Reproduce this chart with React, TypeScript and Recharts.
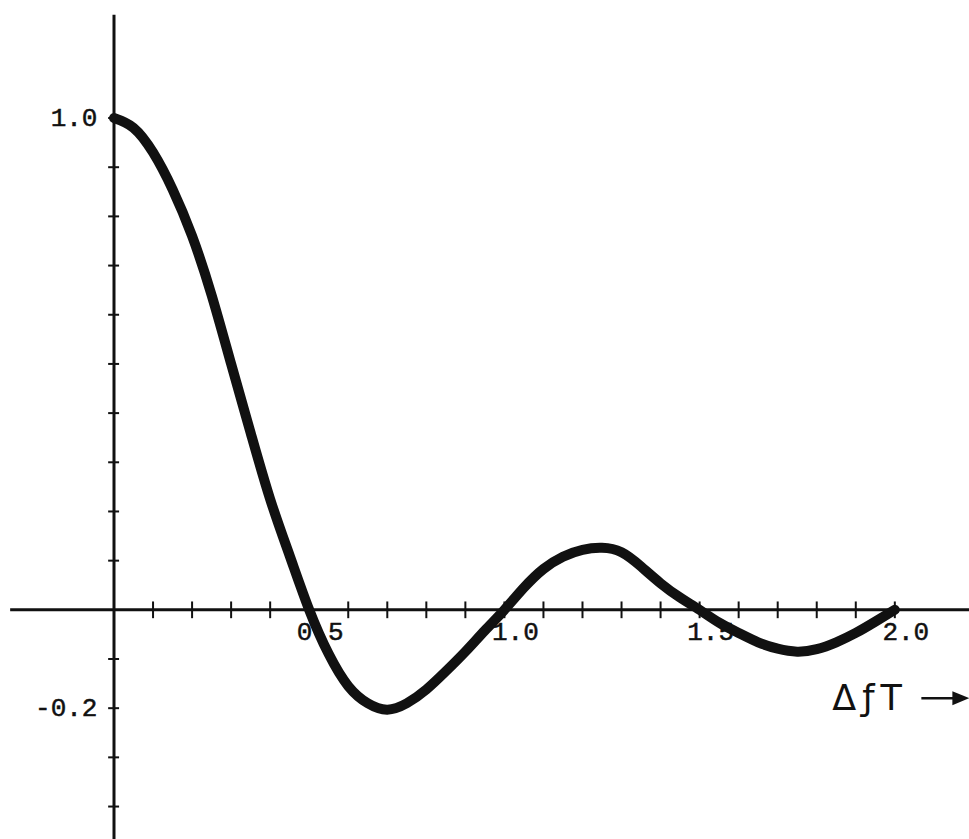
import { LineChart, Line, XAxis, YAxis, ReferenceLine, ReferenceDot } from "recharts";

// frequency offset times symbol period, every 0.05
const dfT = [
  0, 0.05, 0.1, 0.15, 0.2, 0.25, 0.3, 0.35, 0.4, 0.45,
  0.5, 0.55, 0.6, 0.65, 0.7, 0.75, 0.8, 0.85, 0.9, 0.95,
  1.0, 1.05, 1.1, 1.15, 1.2, 1.25, 1.3, 1.35, 1.4, 1.45,
  1.5, 1.55, 1.6, 1.65, 1.7, 1.75, 1.8, 1.85, 1.9, 1.95, 2.0,
];
const response = [
  1.0, 0.98, 0.93, 0.855, 0.76, 0.64, 0.5, 0.36, 0.225, 0.11,
  0.0, -0.09, -0.155, -0.19, -0.203, -0.19, -0.162, -0.125, -0.085, -0.042,
  0.0, 0.045, 0.083, 0.108, 0.122, 0.126, 0.117, 0.088, 0.054, 0.025,
  0.0, -0.026, -0.047, -0.066, -0.079, -0.085, -0.08, -0.066, -0.047, -0.024, 0.0,
];

const xTicks = [0.1, 0.2, 0.3, 0.4, 0.5, 0.6, 0.7, 0.8, 0.9, 1.0, 1.1, 1.2, 1.3, 1.4, 1.5, 1.6, 1.7, 1.8, 1.9, 2.0];
const yTicks = [1.0, 0.9, 0.8, 0.7, 0.6, 0.5, 0.4, 0.3, 0.2, 0.1, -0.1, -0.2, -0.3, -0.4];
const xLabels = [
  { v: 0.5, text: "0.5" },
  { v: 1.0, text: "1.0" },
  { v: 1.5, text: "1.5" },
  { v: 2.0, text: "2.0" },
];
const yLabels = [
  { v: 1.0, text: "1.0" },
  { v: -0.2, text: "-0.2" },
];

const data = dfT.map((x, i) => ({ x, y: response[i] }));

const W = 969;
const H = 839;
const X_MIN = -0.292;
const X_MAX = 2.19;
const Y_MIN = -0.466;
const Y_MAX = 1.24;
const MONO = "'Liberation Mono', 'Courier New', monospace";
const INK = "#111";

export default function App() {
  return (
    <div style={{ position: "absolute", left: 0, top: 0, width: W, height: H, background: "#fff" }}>
      <LineChart width={W} height={H} data={data} margin={{ top: 0, right: 0, bottom: 0, left: 0 }}>
        <XAxis type="number" dataKey="x" domain={[X_MIN, X_MAX]} allowDataOverflow hide />
        <YAxis type="number" domain={[Y_MIN, Y_MAX]} allowDataOverflow hide />

        {/* axes */}
        <ReferenceLine
          segment={[{ x: -0.266, y: 0 }, { x: X_MAX, y: 0 }]}
          stroke={INK}
          strokeWidth={3}
          ifOverflow="visible"
        />
        <ReferenceLine
          segment={[{ x: 0, y: Y_MIN }, { x: 0, y: 1.21 }]}
          stroke={INK}
          strokeWidth={3}
          ifOverflow="visible"
        />
        {xTicks.map((v) => (
          <ReferenceLine
            key={"xt" + v}
            segment={[{ x: v, y: -0.017 }, { x: v, y: 0.017 }]}
            stroke={INK}
            strokeWidth={2}
            ifOverflow="visible"
          />
        ))}
        {yTicks.map((v) => (
          <ReferenceLine
            key={"yt" + v}
            segment={[{ x: -0.015, y: v }, { x: 0.013, y: v }]}
            stroke={INK}
            strokeWidth={2}
            ifOverflow="visible"
          />
        ))}

        {/* tick labels */}
        {xLabels.map((l) => (
          <ReferenceDot
            key={"xl" + l.v}
            x={l.v}
            y={0}
            r={0}
            ifOverflow="visible"
            shape={(p: any) => (
              <text x={p.cx + 11} y={p.cy + 23} textAnchor="middle" dominantBaseline="central"
                fontFamily={MONO} fontSize={26} fill={INK} stroke={INK} strokeWidth={0.5}>{l.text}</text>
            )}
          />
        ))}
        {yLabels.map((l) => (
          <ReferenceDot
            key={"yl" + l.v}
            x={-0.05}
            y={l.v}
            r={0}
            ifOverflow="visible"
            shape={(p: any) => (
              <text x={p.cx + 3} y={p.cy + 1} textAnchor="end" dominantBaseline="central"
                fontFamily={MONO} fontSize={26} fill={INK} stroke={INK} strokeWidth={0.5}>{l.text}</text>
            )}
          />
        ))}

        {/* axis title: ΔfT with arrow */}
        <ReferenceDot
          x={1.84}
          y={-0.2}
          r={0}
          ifOverflow="visible"
          shape={(p: any) => (
            <g>
              <text x={p.cx} y={p.cy + 2} fontFamily="'DejaVu Sans', sans-serif" fontSize={35}
                letterSpacing={6} fill={INK}>ΔƒT</text>
              <line x1={p.cx + 89} y1={p.cy - 10} x2={p.cx + 126} y2={p.cy - 10} stroke={INK} strokeWidth={2.5} />
              <path d={`M ${p.cx + 120} ${p.cy - 17} L ${p.cx + 137} ${p.cy - 10} L ${p.cx + 120} ${p.cy - 3} Z`} fill={INK} />
            </g>
          )}
        />

        <Line
          type="natural"
          dataKey="y"
          stroke={INK}
          strokeWidth={10}
          strokeLinecap="round"
          strokeLinejoin="round"
          dot={false}
          activeDot={false}
          isAnimationActive={false}
        />
      </LineChart>
    </div>
  );
}
